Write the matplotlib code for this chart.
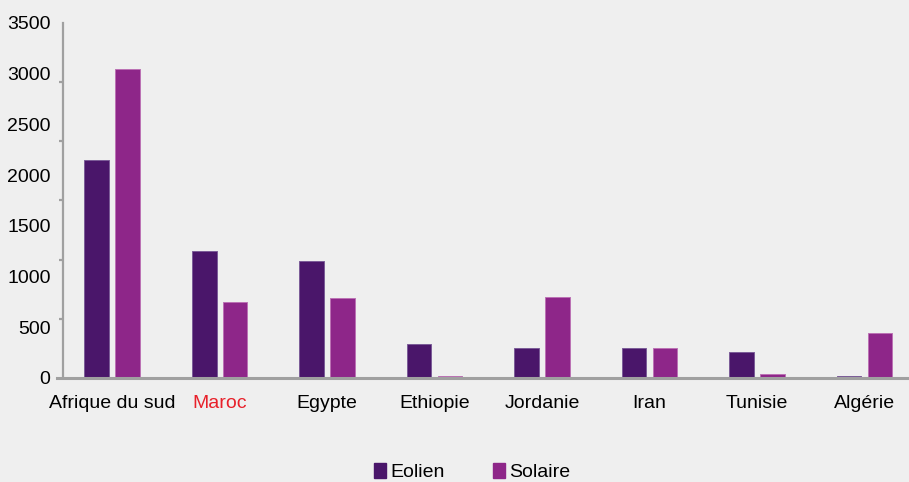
import numpy as np
import matplotlib.pyplot as plt
from matplotlib.patches import Rectangle

# Capacité installée par pays (MW)
pays = ["Afrique du sud", "Maroc", "Egypte", "Ethiopie", "Jordanie", "Iran", "Tunisie", "Algérie"]
eolien = [2150, 1250, 1150, 335, 295, 295, 252, 20]
solaire = [3050, 750, 790, 20, 795, 295, 42, 442]
y_ticks = [0, 500, 1000, 1500, 2000, 2500, 3000, 3500]

c_eolien = "#4a166a"
c_solaire = "#8e2689"
bg = "#efefef"
axis_grey = "#a0a0a0"
font = ["Liberation Sans", "DejaVu Sans"]
fs = 14

W, H = 909, 482
fig = plt.figure(figsize=(W / 100, H / 100), dpi=100, facecolor=bg)
ax = fig.add_axes([63 / W, (H - 378) / H, (W - 63) / W, (378 - 23) / H])
ax.set_facecolor(bg)

x = np.arange(len(pays))
w = 0.232
off = 0.144
ax.bar(x - off, eolien, w, color=c_eolien, edgecolor="#7b5c98", linewidth=0.7, zorder=2)
ax.bar(x + off, solaire, w, color=c_solaire, edgecolor="#bb72b4", linewidth=0.7, zorder=2)

ax.set_xlim(-0.456, 7.414)
ax.set_ylim(0, 3500)

for s in ["top", "right", "bottom"]:
    ax.spines[s].set_visible(False)
ax.spines["left"].set_color(axis_grey)
ax.spines["left"].set_linewidth(1.6)
ax.axhline(0, xmin=-0.007, xmax=1, color=axis_grey, linewidth=2.2, clip_on=False, zorder=3)

# labels at every 500, tick marks on their own spacing
ax.set_yticks(y_ticks)
ax.set_yticklabels([str(v) for v in y_ticks], family=font, fontsize=fs)
ax.tick_params(axis="y", which="major", length=0, pad=9)
ax.set_yticks(np.linspace(0, 3500, 7), minor=True)
ax.tick_params(axis="y", which="minor", length=3, width=1.6, color=axis_grey)

ax.set_xticks(x)
ax.set_xticklabels(pays, family=font, fontsize=fs)
ax.tick_params(axis="x", length=0, pad=12)
ax.get_xticklabels()[1].set_color("#e8202a")

# legend at the bottom
for px, label, col in [(374, "Eolien", c_eolien), (493, "Solaire", c_solaire)]:
    fig.add_artist(Rectangle((px / W, (H - 478) / H), 12 / W, 15 / H,
                             transform=fig.transFigure, color=col))
    fig.text((px + 16) / W, 1 / H, label, family=font, fontsize=fs,
             ha="left", va="bottom")

fig.savefig("out.png", dpi=100, facecolor=bg)
